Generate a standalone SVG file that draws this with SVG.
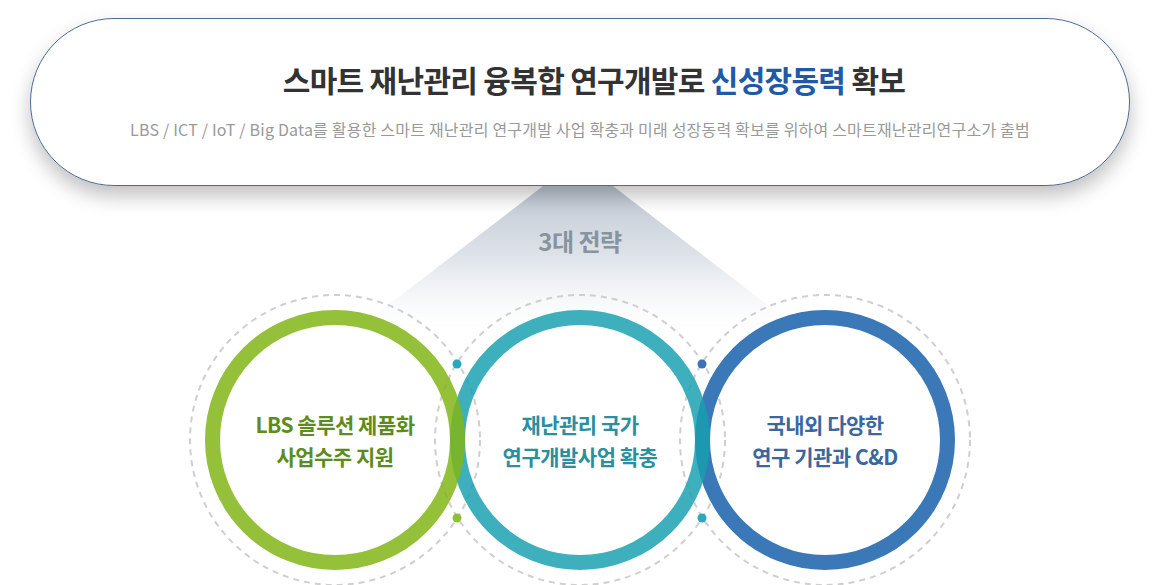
<svg xmlns="http://www.w3.org/2000/svg" width="1160" height="585" viewBox="0 0 1160 585">
<defs>
<linearGradient id="beam" x1="0" y1="0" x2="0" y2="1">
<stop offset="0" stop-color="#bfc7d2"/>
<stop offset="0.5" stop-color="#dfe4ea"/>
<stop offset="1" stop-color="#f4f6f8" stop-opacity="0"/>
</linearGradient>
<filter id="shadow" x="-10%" y="-30%" width="120%" height="170%">
<feGaussianBlur in="SourceAlpha" stdDeviation="10"/>
<feOffset dy="10"/>
<feComponentTransfer><feFuncA type="linear" slope="0.25"/></feComponentTransfer>
<feMerge><feMergeNode/><feMergeNode in="SourceGraphic"/></feMerge>
</filter>
<style>
.k{font-family:"Noto Sans CJK KR","Noto Sans",sans-serif;}
.dash{fill:none;stroke:#cfcfcf;stroke-width:2;stroke-dasharray:6 5;}
.ring{fill:none;stroke-width:15;}
.lbl{font-size:21px;font-weight:700;text-anchor:middle;letter-spacing:-0.5px;}
</style>
</defs>
<rect width="1160" height="585" fill="#ffffff"/>
<polygon points="543,186 613,186 800,330 356,330" fill="url(#beam)"/>
<g id="header">
<rect x="30.5" y="18.5" width="1099" height="167" rx="83.5" ry="83.5" fill="#ffffff" stroke="#4e6a95" stroke-width="1" filter="url(#shadow)"/>
<text class="k" x="594" y="92" font-size="30" font-weight="700" fill="#333333" text-anchor="middle" letter-spacing="-0.7">스마트 재난관리 융복합 연구개발로 <tspan fill="#1f5aa6">신성장동력</tspan> 확보</text>
<text class="k" x="580" y="136" font-size="16" fill="#999999" text-anchor="middle" letter-spacing="0.2">LBS / ICT / IoT / Big Data를 활용한 스마트 재난관리 연구개발 사업 확충과 미래 성장동력 확보를 위하여 스마트재난관리연구소가 출범</text>
</g>
<g id="strategy-title">
<text class="k" x="580" y="251" font-size="24" font-weight="700" fill="#8893a0" text-anchor="middle" letter-spacing="-0.5">3대 전략</text>
</g>
<g id="connectors">
<circle class="dash" cx="335" cy="440" r="145"/>
<circle class="dash" cx="580" cy="440" r="145"/>
<circle class="dash" cx="825" cy="440" r="145"/>
<circle cx="457" cy="364" r="4.5" fill="#2aa9bd"/>
<circle cx="457" cy="518" r="4.5" fill="#8dbf38"/>
<circle cx="702" cy="364" r="4.5" fill="#3a72b5"/>
<circle cx="702" cy="518" r="4.5" fill="#2aa9bd"/>
</g>
<g id="node-blue">
<circle class="ring" cx="825" cy="440" r="122.5" stroke="#3a78b8"/>
<text class="k lbl" x="825" y="433" fill="#3a67a0">국내외 다양한</text>
<text class="k lbl" x="825" y="465" fill="#3a67a0">연구 기관과 C&amp;D</text>
</g>
<g id="node-teal">
<circle class="ring" cx="580" cy="440" r="122.5" stroke="#179fb0" stroke-opacity="0.83"/>
<text class="k lbl" x="580" y="433" fill="#2a8f9f">재난관리 국가</text>
<text class="k lbl" x="580" y="465" fill="#2a8f9f">연구개발사업 확충</text>
</g>
<g id="node-green">
<circle class="ring" cx="335" cy="440" r="122.5" stroke="#81b517" stroke-opacity="0.85"/>
<text class="k lbl" x="335" y="433" fill="#5e8c1c">LBS 솔루션 제품화</text>
<text class="k lbl" x="335" y="465" fill="#5e8c1c">사업수주 지원</text>
</g>
</svg>
